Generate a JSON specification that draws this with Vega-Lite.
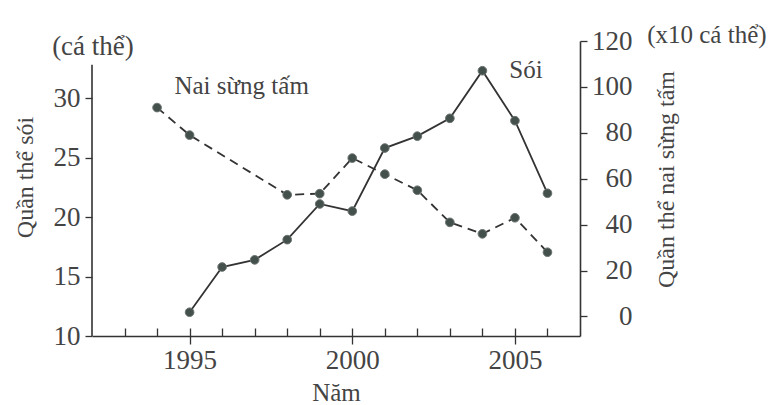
{
  "$schema": "https://vega.github.io/schema/vega-lite/v6.json",
  "width": 488,
  "height": 295,
  "autosize": {"type": "none"},
  "padding": {"left": 92, "top": 41, "right": 195, "bottom": 69},
  "background": "white",
  "config": {
    "view": {"stroke": null},
    "font": "Liberation Serif",
    "axis": {"grid": false, "domainColor": "#333", "domainWidth": 1.6, "tickColor": "#333", "tickWidth": 1.3, "labelColor": "#444", "titleColor": "#444", "labelFont": "Liberation Serif", "titleFont": "Liberation Serif", "titleFontWeight": "normal", "labelFontSize": 27, "titleFontSize": 24},
    "text": {"color": "#444", "font": "Liberation Serif"}
  },
  "datasets": {
    "wolf": [
      {"year": 1995, "wolves": 12.0},
      {"year": 1996, "wolves": 15.8},
      {"year": 1997, "wolves": 16.4},
      {"year": 1998, "wolves": 18.1},
      {"year": 1999, "wolves": 21.1},
      {"year": 2000, "wolves": 20.5},
      {"year": 2001, "wolves": 25.8},
      {"year": 2002, "wolves": 26.8},
      {"year": 2003, "wolves": 28.3},
      {"year": 2004, "wolves": 32.3},
      {"year": 2005, "wolves": 28.1},
      {"year": 2006, "wolves": 22.0}
    ],
    "moose": [
      {"year": 1994, "moose": 91},
      {"year": 1995, "moose": 79},
      {"year": 1998, "moose": 53},
      {"year": 1999, "moose": 53.5},
      {"year": 2000, "moose": 69},
      {"year": 2001, "moose": 62},
      {"year": 2002, "moose": 55},
      {"year": 2003, "moose": 41},
      {"year": 2004, "moose": 36},
      {"year": 2005, "moose": 43},
      {"year": 2006, "moose": 28}
    ]
  },
  "layer": [
    {
      "data": {"name": "wolf"},
      "encoding": {
        "x": {"field": "year", "type": "quantitative", "scale": {"domain": [1992, 2007], "nice": false, "zero": false},
          "axis": {"orient": "bottom", "values": [1993, 1994, 1995, 1996, 1997, 1998, 1999, 2000, 2001, 2002, 2003, 2004, 2005, 2006], "tickSize": -8, "labels": false, "title": null}},
        "y": {"field": "wolves", "type": "quantitative", "scale": {"domain": [10, 34.8], "nice": false, "zero": false},
          "axis": {"orient": "left", "values": [10, 15, 20, 25, 30], "tickSize": 7, "labelPadding": 5, "domain": false, "title": "Quần thể sói", "titleAngle": 270, "titleX": -67, "titleY": 136, "titleAlign": "center", "titleBaseline": "middle"}}
      },
      "layer": [
        {"mark": {"type": "line", "color": "#333", "strokeWidth": 1.8}},
        {"mark": {"type": "circle", "size": 75, "fill": "#44504c", "stroke": "#6a736f", "strokeWidth": 1, "opacity": 1}}
      ]
    },
    {
      "data": {"name": "moose"},
      "encoding": {
        "x": {"field": "year", "type": "quantitative", "scale": {"domain": [1992, 2007], "nice": false, "zero": false},
          "axis": {"orient": "bottom", "values": [1995, 2000, 2005], "format": "d", "tickSize": 8, "domain": false, "labelPadding": 3, "title": "Năm", "titleY": 44, "titleFontSize": 25}},
        "y": {"field": "moose", "type": "quantitative", "scale": {"domain": [-8.5, 120], "nice": false, "zero": false},
          "axis": {"orient": "right", "values": [0, 20, 40, 60, 80, 100, 120], "tickSize": 7, "labelAlign": "right", "labelPadding": 45, "title": "Quần thể nai sừng tấm", "titleAngle": 270, "titleX": 86, "titleY": 138, "titleAlign": "center", "titleBaseline": "middle"}}
      },
      "layer": [
        {"mark": {"type": "line", "color": "#333", "strokeWidth": 1.8, "strokeDash": [9, 6]}},
        {"mark": {"type": "circle", "size": 75, "fill": "#44504c", "stroke": "#6a736f", "strokeWidth": 1, "opacity": 1}}
      ]
    },
    {
      "data": {"values": [{}]},
      "mark": {"type": "rule", "color": "#333", "strokeWidth": 1.6},
      "encoding": {
        "x": {"datum": 1992, "type": "quantitative", "scale": {"domain": [1992, 2007], "nice": false, "zero": false}, "axis": null},
        "y": {"datum": 10, "type": "quantitative", "scale": {"domain": [10, 34.8], "nice": false, "zero": false}, "axis": null},
        "y2": {"datum": 32.8}
      }
    },
    {
      "data": {"values": [{}]},
      "mark": {"type": "text", "text": "Sói", "fontSize": 25, "clip": false},
      "encoding": {
        "x": {"datum": 2005.34, "type": "quantitative", "scale": {"domain": [1992, 2007], "nice": false, "zero": false}, "axis": null},
        "y": {"datum": 32.35, "type": "quantitative", "scale": {"domain": [10, 34.8], "nice": false, "zero": false}, "axis": null}
      }
    },
    {
      "data": {"values": [{}]},
      "mark": {"type": "text", "text": "(cá thể)", "fontSize": 27, "clip": false},
      "encoding": {
        "x": {"datum": 1992.03, "type": "quantitative", "scale": {"domain": [1992, 2007], "nice": false, "zero": false}, "axis": null},
        "y": {"datum": 34.3, "type": "quantitative", "scale": {"domain": [10, 34.8], "nice": false, "zero": false}, "axis": null}
      }
    },
    {
      "data": {"values": [{}]},
      "mark": {"type": "text", "text": "Nai sừng tấm", "fontSize": 25, "clip": false},
      "encoding": {
        "x": {"datum": 1996.6, "type": "quantitative", "scale": {"domain": [1992, 2007], "nice": false, "zero": false}, "axis": null},
        "y": {"datum": 100.2, "type": "quantitative", "scale": {"domain": [-8.5, 120], "nice": false, "zero": false}, "axis": null}
      }
    },
    {
      "data": {"values": [{}]},
      "mark": {"type": "text", "text": "(x10 cá thể)", "fontSize": 25, "clip": false},
      "encoding": {
        "x": {"datum": 2010.9, "type": "quantitative", "scale": {"domain": [1992, 2007], "nice": false, "zero": false}, "axis": null},
        "y": {"datum": 122.8, "type": "quantitative", "scale": {"domain": [-8.5, 120], "nice": false, "zero": false}, "axis": null}
      }
    }
  ],
  "resolve": {"scale": {"y": "independent"}, "axis": {"x": "independent", "y": "independent"}}
}
